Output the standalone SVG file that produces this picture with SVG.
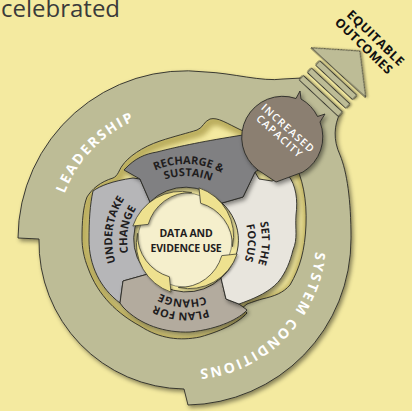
<svg xmlns="http://www.w3.org/2000/svg" width="412" height="411" viewBox="0 0 412 411">
<style>
.lbl{font-family:"Open Sans","DejaVu Sans",sans-serif;font-weight:700;font-size:11px;fill:#1f1d1e;letter-spacing:0px}
.ring-lbl{font-family:"Open Sans","DejaVu Sans",sans-serif;font-weight:700;font-size:14px;fill:#ffffff;letter-spacing:2px}
.edge{stroke:#2a2a26;stroke-width:0.9;stroke-linejoin:round}
.bar{fill:#bdbc96;stroke:#2a2a26;stroke-width:0.9}
</style>
<defs>
<filter id="ds" x="-20%" y="-20%" width="150%" height="150%"><feDropShadow dx="2" dy="2.5" stdDeviation="2" flood-color="#000" flood-opacity="0.45"/></filter>
<filter id="ds2" x="-20%" y="-20%" width="150%" height="150%"><feDropShadow dx="1.2" dy="1.5" stdDeviation="1.2" flood-color="#000" flood-opacity="0.35"/></filter>
<filter id="blur" x="-10%" y="-10%" width="120%" height="120%"><feGaussianBlur stdDeviation="2.5"/></filter>
<path id="hole" d="M82,238 C82,222 83,207 87,197 C92,189 100,182 113,178 C118,176 119,170 122,166 C128,157 142,147 160,141 C175,136 188,133 197,130 C203,128 204,121 210,119 C218,117 226,123 243,131 L262,148 L293,160 C303,178 307,200 306,225 C305,250 300,268 290,285 C283,293 275,296 262,299 C255,301 250,303 247,304 L242,308 L247,313 C240,321 225,330 200,337 C180,341 160,339 140,326 C118,314 98,296 88,268 C84,258 82,248 82,238 Z"/>
<clipPath id="holeClip"><use href="#hole"/></clipPath>
<path id="blade" d="M53.9,-2.8 A51,51 0 0 1 8.3,47.3 A44,44 0 0 0 39.8,3.5 Z"/>
<path id="p-lead" d="M61.0,275.8 A130,130 0 0 1 217.4,113.9"/>
<path id="p-sys" d="M298.6,175 A130,130 0 0 1 121,352.6"/>
<path id="p-rech1" d="M129.5,189.1 A76,76 0 0 1 245.9,193.2"/>
<path id="p-rech2" d="M138.4,197.2 A64,64 0 0 1 236.4,200.6"/>
<path id="p-und1" d="M131.1,289.4 A74,74 0 0 1 146.8,177.2"/>
<path id="p-und2" d="M140.8,277.9 A59,59 0 0 1 156.5,188.9"/>
<path id="p-foc1" d="M237.3,184.0 A76,76 0 0 1 232.3,300.3"/>
<path id="p-foc2" d="M227.9,194.3 A62,62 0 0 1 223.7,289.2"/>
<path id="p-plan1" d="M238.1,290.4 A72.5,72.5 0 0 1 127.3,282.6"/>
<path id="p-plan2" d="M229.2,281.0 A59.5,59.5 0 0 1 138.2,275.4"/>
</defs>

<rect x="0" y="0" width="412" height="411" fill="#f4eaa0"/>

<g id="title">
<text x="1" y="16.5" font-family="'Open Sans','DejaVu Sans',sans-serif" font-size="24" fill="#3a3a3a">celebrated</text>
</g>

<g id="outer-ring">
<path class="edge" fill="#bdbc96" filter="url(#ds)" d="M18,238 A168,168 0 0 1 206,72 C232,73 262,82 283,79 L302,78 L340,113.5 C334,125 333,140 340,155 C347,172 351,200 351,238 A166,166 0 0 1 188,405 L184,389 A147,147 0 0 1 39,239 Z"/>
<use href="#hole" fill="#f4eaa0"/>
<g clip-path="url(#holeClip)"><use href="#hole" fill="none" stroke="#a89a48" stroke-width="10" filter="url(#blur)" transform="translate(2,2)" opacity="0.75"/></g>
<use href="#hole" fill="none" class="edge"/>
<text class="ring-lbl"><textPath href="#p-lead" startOffset="50%" text-anchor="middle">LEADERSHIP</textPath></text>
<text class="ring-lbl"><textPath href="#p-sys" startOffset="50%" text-anchor="middle">SYSTEM CONDITIONS</textPath></text>
</g>

<g id="connectors">
<g transform="translate(338,73) rotate(-47)" filter="url(#ds2)">
<rect class="bar" x="-31.5" y="-24" width="6" height="54" rx="1"/>
<rect class="bar" x="-20.5" y="-23" width="6" height="53" rx="1"/>
<rect class="bar" x="-9.5" y="-22" width="6" height="51" rx="1"/>
<polygon class="bar" points="0,-37 31,1 1,37"/>
</g>
</g>

<g id="equitable-outcomes">
<g transform="translate(370,42) rotate(44)" font-family="'Open Sans','DejaVu Sans',sans-serif" font-weight="700" font-size="12.5" fill="#111" letter-spacing="0.6" text-anchor="middle">
<text x="1.5" y="-2.5">EQUITABLE</text>
<text x="-1.5" y="11.5">OUTCOMES</text>
</g>
</g>

<g id="undertake-change">
<path class="edge" fill="#b6b6b8" filter="url(#ds)" d="M120,303 C100,288 89,265 89,240 C89,220 90,205 93,191 C100,186 112,181 133,178 L140,179 L150,202 A50,50 0 0 0 148,274 L123,281 Z"/>
<text class="lbl"><textPath href="#p-und1" startOffset="50%" text-anchor="middle">UNDERTAKE</textPath></text>
<text class="lbl"><textPath href="#p-und2" startOffset="50%" text-anchor="middle">CHANGE</textPath></text>
</g>

<g id="plan-for-change">
<path class="edge" fill="#b3ab9e" filter="url(#ds)" d="M239,304 L247,310 C240,318 220,329 190,332 C165,333 140,325 123,307 L120,303 L123,281 L148,274 A50,50 0 0 0 221,278 L226,299 Z"/>
<text class="lbl"><textPath href="#p-plan1" startOffset="50%" text-anchor="middle">PLAN FOR</textPath></text>
<text class="lbl"><textPath href="#p-plan2" startOffset="50%" text-anchor="middle">CHANGE</textPath></text>
</g>

<g id="set-the-focus">
<path class="edge" fill="#e8e5dd" filter="url(#ds)" d="M222,203 L243,197 L255,172 L259,179 L272,181 L288,175 C296,185 298,200 296,215 C295,230 298,238 293,250 C290,262 286,272 279,281 C272,289 262,296 239,304 L226,299 L221,278 A50,50 0 0 0 222,203 Z"/>
<text class="lbl"><textPath href="#p-foc1" startOffset="50%" text-anchor="middle">SET THE</textPath></text>
<text class="lbl"><textPath href="#p-foc2" startOffset="50%" text-anchor="middle">FOCUS</textPath></text>
</g>

<g id="recharge-sustain">
<path class="edge" fill="#808082" filter="url(#ds)" d="M124,170 C135,158 145,154 157,152 C180,146 205,141 243,135 L262,145 L263,167 L255,172 L243,197 L222,203 A50,50 0 0 0 150,202 L140,179 Z"/>
<text class="lbl"><textPath href="#p-rech1" startOffset="50%" text-anchor="middle">RECHARGE &amp;</textPath></text>
<text class="lbl"><textPath href="#p-rech2" startOffset="50%" text-anchor="middle">SUSTAIN</textPath></text>
</g>

<g id="increased-capacity">
<path class="edge" fill="#8b7f71" filter="url(#ds)" d="M276,182 L258,170 A41,41 0 0 1 296,98.5 L300,91 L301,99 A41,41 0 0 1 317.5,116.5 L325,114 L320,122 A41,41 0 0 1 303,172 Z"/>
<g transform="translate(284,133) rotate(42)" font-family="'Open Sans','DejaVu Sans',sans-serif" font-weight="600" font-size="10.5" fill="#ffffff" letter-spacing="1.2" text-anchor="middle">
<text x="0" y="-2.5">INCREASED</text>
<text x="-1" y="9">CAPACITY</text>
</g>
</g>

<g id="data-evidence-use">
<circle cx="185" cy="240" r="47" fill="#f5efcc" stroke="#4a4a40" stroke-width="0.6"/>
<g fill="#eee18f" stroke="#3b3b30" stroke-width="0.7" filter="url(#ds2)">
<use href="#blade" transform="translate(185,240) rotate(288)"/>
<use href="#blade" transform="translate(185,240) rotate(18)"/>
<use href="#blade" transform="translate(185,240) rotate(108)"/>
<use href="#blade" transform="translate(185,240) rotate(198)"/>
</g>
<text class="lbl" x="186" y="237" text-anchor="middle" style="font-size:10.5px;letter-spacing:-0.2px">DATA AND</text>
<text class="lbl" x="186" y="251.5" text-anchor="middle" style="font-size:10.5px;letter-spacing:-0.2px">EVIDENCE USE</text>
</g>
</svg>
